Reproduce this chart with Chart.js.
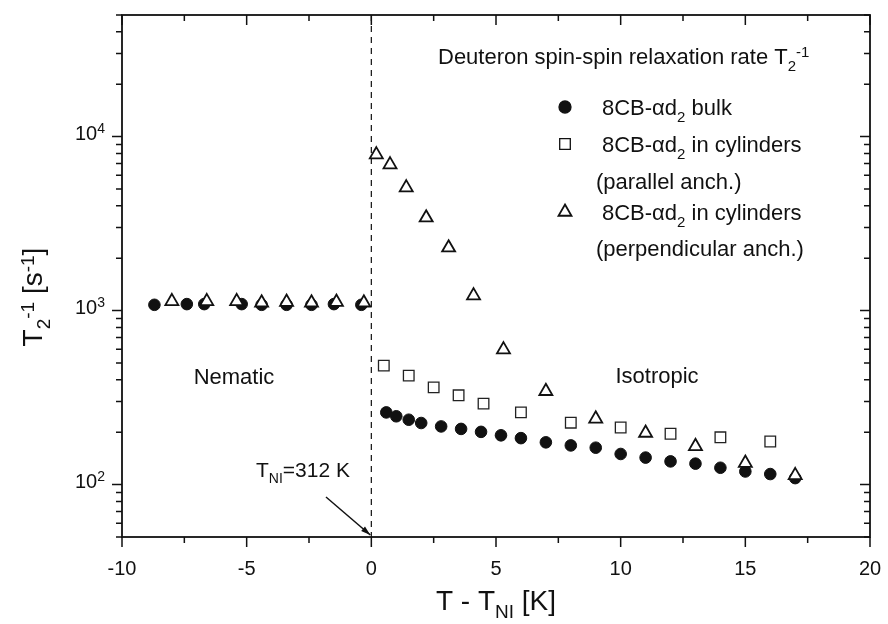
<!DOCTYPE html>
<html>
<head>
<meta charset="utf-8">
<script src="https://cdn.jsdelivr.net/npm/chart.js@4/dist/chart.umd.min.js"></script>
<style>
  html, body { margin: 0; padding: 0; background: #fff; }
  canvas { display: block; }
</style>
</head>
<body>
<canvas id="chart" width="888" height="624"></canvas>
<script>
// 8CB-ad2 bulk (filled circles)
const bulkX = [-8.7, -7.4, -6.7, -5.2, -4.4, -3.4, -2.4, -1.5, -0.4,
  0.6, 1.0, 1.5, 2.0, 2.8, 3.6, 4.4, 5.2, 6.0, 7.0, 8.0, 9.0, 10.0, 11.0, 12.0, 13.0, 14.0, 15.0, 16.0, 17.0];
const bulkY = [1080, 1090, 1090, 1090, 1080, 1080, 1080, 1090, 1080,
  260, 247, 236, 226, 216, 209, 201, 192, 185, 175, 168, 163, 150, 143, 136, 132, 125, 119, 115, 109];

// in cylinders, parallel anchoring (open squares)
const parX = [0.5, 1.5, 2.5, 3.5, 4.5, 6, 8, 10, 12, 14, 16];
const parY = [483, 423, 362, 326, 292, 260, 227, 213, 196, 187, 177];

// in cylinders, perpendicular anchoring (open triangles)
const perpX = [-8.0, -6.6, -5.4, -4.4, -3.4, -2.4, -1.4, -0.3,
  0.2, 0.75, 1.4, 2.2, 3.1, 4.1, 5.3, 7.0, 9.0, 11.0, 13.0, 15.0, 17.0];
const perpY = [1130, 1130, 1130, 1110, 1120, 1110, 1120, 1110,
  7880, 6900, 5090, 3420, 2300, 1220, 597, 344, 239, 198, 166, 133, 113];

const xTicks = [-10, -5, 0, 5, 10, 15, 20];
const xMinor = [-7.5, -2.5, 2.5, 7.5, 12.5, 17.5];
const yTicks = [100, 1000, 10000];
const yTickExp = ["2", "3", "4"];

const FONT = '"Liberation Sans", Arial, sans-serif';
const f = (s) => `${s}px ${FONT}`;

function pts(xs, ys) {
  return xs.map((x, i) => ({ x: x, y: ys[i] }));
}

// parts: [text, mode]  mode 0 normal, 1 subscript, 2 superscript
function drawRich(ctx, parts, x, y, size, align) {
  const small = Math.round(size * 0.68);
  let w = 0;
  parts.forEach((p) => {
    ctx.font = f(p[1] ? small : size);
    w += ctx.measureText(p[0]).width;
  });
  let cx = align === "center" ? x - w / 2 : align === "right" ? x - w : x;
  ctx.textAlign = "left";
  ctx.textBaseline = "alphabetic";
  parts.forEach((p) => {
    const s = p[1] ? small : size;
    ctx.font = f(s);
    let dy = 0;
    if (p[1] === 1) dy = size * 0.3;
    if (p[1] === 2) dy = -(size - small) * 0.72 - 2;
    ctx.fillText(p[0], cx, y + dy);
    cx += ctx.measureText(p[0]).width;
  });
}

const decor = {
  id: "decor",
  afterDraw(chart) {
    const { ctx, chartArea: a, scales } = chart;
    const xs = scales.x, ys = scales.y;
    ctx.save();
    ctx.strokeStyle = "#111";
    ctx.fillStyle = "#111";

    // dashed line at T = T_NI
    const x0 = xs.getPixelForValue(0);
    ctx.lineWidth = 1.2;
    ctx.setLineDash([6, 5]);
    ctx.beginPath();
    ctx.moveTo(x0, a.top);
    ctx.lineTo(x0, a.bottom);
    ctx.stroke();
    ctx.setLineDash([]);

    // frame
    ctx.lineWidth = 1.8;
    ctx.strokeRect(a.left, a.top, a.right - a.left, a.bottom - a.top);

    // x ticks
    ctx.lineWidth = 1.5;
    const xt = (v, len) => {
      const px = xs.getPixelForValue(v);
      ctx.beginPath();
      ctx.moveTo(px, a.bottom); ctx.lineTo(px, a.bottom + len);
      ctx.moveTo(px, a.top); ctx.lineTo(px, a.top + len);
      ctx.stroke();
    };
    xTicks.forEach((v) => xt(v, 10));
    xMinor.forEach((v) => xt(v, 6));

    // y ticks (log)
    const yt = (v, len) => {
      const py = ys.getPixelForValue(v);
      ctx.beginPath();
      ctx.moveTo(a.left, py); ctx.lineTo(a.left - len, py);
      ctx.moveTo(a.right, py); ctx.lineTo(a.right - len, py);
      ctx.stroke();
    };
    for (let d = 10; d <= 10000; d *= 10) {
      for (let m = 1; m <= 9; m++) {
        const v = d * m;
        if (v < ys.min || v > ys.max) continue;
        yt(v, m === 1 ? 10 : 6);
      }
    }

    // tick labels
    ctx.font = f(20);
    ctx.textAlign = "center";
    ctx.textBaseline = "alphabetic";
    xTicks.forEach((v) => {
      ctx.fillText(String(v), xs.getPixelForValue(v), a.bottom + 38);
    });
    yTicks.forEach((v, i) => {
      drawRich(ctx, [["10", 0], [yTickExp[i], 2]], a.left - 17, ys.getPixelForValue(v) + 3, 20, "right");
    });

    // axis titles
    drawRich(ctx, [["T - T", 0], ["NI", 1], [" [K]", 0]], (a.left + a.right) / 2, 610, 28, "center");
    ctx.save();
    ctx.translate(42, 297);
    ctx.rotate(-Math.PI / 2);
    drawRich(ctx, [["T", 0], ["2", 1], ["-1", 2], [" [s", 0], ["-1", 2], ["]", 0]], 0, 0, 28, "center");
    ctx.restore();

    // header + legend
    drawRich(ctx, [["Deuteron spin-spin relaxation rate T", 0], ["2", 1], ["-1", 2]], 438, 64, 22, "left");
    const legend = [
      { y: 107, style: "circle", r: 6, fill: "#111", text: [["8CB-\u03b1d", 0], ["2", 1], [" bulk", 0]] },
      { y: 144, style: "rect", r: 7.5, fill: "#fff", text: [["8CB-\u03b1d", 0], ["2", 1], [" in cylinders", 0]] },
      { y: 181, text: [["(parallel anch.)", 0]], indent: true },
      { y: 212, style: "triangle", r: 7.5, fill: "#fff", text: [["8CB-\u03b1d", 0], ["2", 1], [" in cylinders", 0]] },
      { y: 248, text: [["(perpendicular anch.)", 0]], indent: true }
    ];
    legend.forEach((l) => {
      if (l.style) {
        ctx.fillStyle = l.fill;
        ctx.lineWidth = l.style === "triangle" ? 1.8 : 1.3;
        Chart.helpers.drawPoint(ctx, { pointStyle: l.style, radius: l.r, rotation: 0, borderWidth: 1 }, 565, l.y);
        ctx.fillStyle = "#111";
      }
      drawRich(ctx, l.text, l.indent ? 596 : 602, l.y + 8, 22, "left");
    });

    // phase labels
    ctx.font = f(22);
    ctx.textAlign = "center";
    ctx.textBaseline = "middle";
    ctx.fillText("Nematic", 234, 378);
    ctx.fillText("Isotropic", 657, 377);

    // T_NI annotation with arrow
    drawRich(ctx, [["T", 0], ["NI", 1], ["=312 K", 0]], 303, 477, 21, "center");
    const tipX = x0 - 1, tipY = a.bottom - 2;
    const tailX = 326, tailY = 497;
    ctx.lineWidth = 1.5;
    ctx.beginPath();
    ctx.moveTo(tailX, tailY);
    ctx.lineTo(tipX, tipY);
    ctx.stroke();
    const ang = Math.atan2(tipY - tailY, tipX - tailX);
    ctx.beginPath();
    ctx.moveTo(tipX, tipY);
    ctx.lineTo(tipX - 10 * Math.cos(ang - 0.3), tipY - 10 * Math.sin(ang - 0.3));
    ctx.lineTo(tipX - 10 * Math.cos(ang + 0.3), tipY - 10 * Math.sin(ang + 0.3));
    ctx.closePath();
    ctx.fill();

    ctx.restore();
  }
};

new Chart(document.getElementById("chart"), {
  type: "scatter",
  data: {
    datasets: [
      {
        label: "8CB-\u03b1d2 in cylinders (perpendicular anch.)",
        data: pts(perpX, perpY),
        pointStyle: "triangle",
        pointRadius: 7.5,
        pointBackgroundColor: "#fff",
        pointBorderColor: "#111",
        pointBorderWidth: 1.8,
        order: 0
      },
      {
        label: "8CB-\u03b1d2 in cylinders (parallel anch.)",
        data: pts(parX, parY),
        pointStyle: "rect",
        pointRadius: 7.5,
        pointBackgroundColor: "#fff",
        pointBorderColor: "#222",
        pointBorderWidth: 1.3,
        order: 1
      },
      {
        label: "8CB-\u03b1d2 bulk",
        data: pts(bulkX, bulkY),
        pointStyle: "circle",
        pointRadius: 5.8,
        pointBackgroundColor: "#111",
        pointBorderColor: "#111",
        pointBorderWidth: 1,
        order: 2
      }
    ]
  },
  options: {
    responsive: false,
    animation: false,
    clip: false,
    layout: { padding: { left: 122, right: 18, top: 15, bottom: 87 } },
    plugins: { legend: { display: false }, tooltip: { enabled: false } },
    scales: {
      x: { type: "linear", min: -10, max: 20, display: false },
      y: { type: "logarithmic", min: 50, max: 50000, display: false }
    }
  },
  plugins: [decor]
});
</script>
</body>
</html>
